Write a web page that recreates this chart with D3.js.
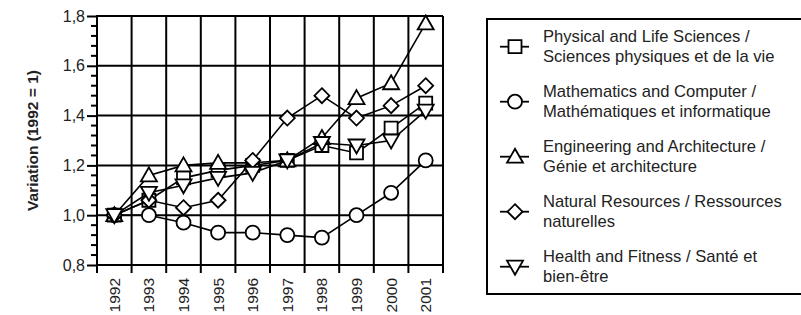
<!DOCTYPE html>
<html>
<head>
<meta charset="utf-8">
<script src="https://cdn.jsdelivr.net/npm/d3@7"></script>
<style>
  html, body { margin: 0; padding: 0; background: #fff; }
  svg { display: block; font-family: "Liberation Sans", Arial, sans-serif; }
</style>
</head>
<body>
<svg id="chart" width="801" height="315"></svg>
<script>
const years = ["1992","1993","1994","1995","1996","1997","1998","1999","2000","2001"];
const yTicks = [0.8, 1.0, 1.2, 1.4, 1.6, 1.8];

const physical    = [1.00, 1.06, 1.15, 1.18, 1.20, 1.22, 1.28, 1.25, 1.35, 1.45];
const mathematics = [1.00, 1.00, 0.97, 0.93, 0.93, 0.92, 0.91, 1.00, 1.09, 1.22];
const engineering = [1.00, 1.16, 1.20, 1.21, 1.21, 1.22, 1.31, 1.47, 1.53, 1.77];
const natural     = [1.00, 1.06, 1.03, 1.06, 1.22, 1.39, 1.48, 1.39, 1.44, 1.52];
const health      = [1.00, 1.09, 1.12, 1.15, 1.17, 1.22, 1.29, 1.28, 1.30, 1.42];

const seriesNames = [
  ["Physical and Life Sciences /", "Sciences physiques et de la vie"],
  ["Mathematics and Computer /", "Mathématiques et informatique"],
  ["Engineering and Architecture /", "Génie et architecture"],
  ["Natural Resources / Ressources", "naturelles"],
  ["Health and Fitness / Santé et", "bien-être"]
];
const seriesValues = [physical, mathematics, engineering, natural, health];
const seriesMarkers = ["square", "circle", "triangleUp", "diamond", "triangleDown"];

const svg = d3.select("#chart");
const m = {left: 97, right: 443, top: 16, bottom: 265};

const x = d3.scaleBand().domain(years).range([m.left, m.right]);
const y = d3.scaleLinear().domain([0.8, 1.8]).range([m.bottom, m.top]);

function markerPath(type) {
  switch (type) {
    case "square": return "M-6.5,-6.5H6.5V6.5H-6.5Z";
    case "circle": return d3.symbol().type(d3.symbolCircle).size(Math.PI * 7 * 7)();
    case "triangleUp": return "M0,-8L8,6H-8Z";
    case "triangleDown": return "M0,8L8,-6H-8Z";
    case "diamond": return "M0,-7.5L7.5,0L0,7.5L-7.5,0Z";
  }
}

// gridlines
const g = svg.append("g");
g.selectAll("line.h").data(yTicks.slice(1)).join("line")
  .attr("x1", m.left).attr("x2", m.right)
  .attr("y1", d => y(d)).attr("y2", d => y(d))
  .attr("stroke", "#000").attr("stroke-width", 2);
const bounds = years.map(d => x(d)).concat([m.right]);
g.selectAll("line.v").data(bounds).join("line")
  .attr("x1", d => d).attr("x2", d => d)
  .attr("y1", m.top).attr("y2", m.bottom + 8)
  .attr("stroke", "#000").attr("stroke-width", 2);

// y axis
const yAxis = d3.axisLeft(y).tickValues(yTicks).tickSize(10).tickPadding(2)
  .tickFormat(d => d3.format(".1f")(d).replace(".", ","));
const ya = svg.append("g").attr("transform", `translate(${m.left},0)`).call(yAxis);
ya.select(".domain").attr("stroke-width", 2).attr("d", `M0,${m.top - 1}V${m.bottom + 1}`);
ya.selectAll(".tick line").attr("stroke-width", 2);
ya.selectAll(".tick text").attr("font-size", 16).attr("fill", "#222")
  .attr("font-family", '"Liberation Sans", Arial, sans-serif');
const minor = d3.range(0.8, 1.8001, 0.04).filter(v => Math.abs(Math.round(v * 5) - v * 5) > 0.01);
svg.append("g").selectAll("line").data(minor).join("line")
  .attr("x1", m.left - 6).attr("x2", m.left)
  .attr("y1", d => y(d)).attr("y2", d => y(d))
  .attr("stroke", "#000").attr("stroke-width", 2);

// x axis line
svg.append("line").attr("x1", m.left - 1).attr("x2", m.right + 1)
  .attr("y1", m.bottom).attr("y2", m.bottom)
  .attr("stroke", "#000").attr("stroke-width", 2);
svg.append("g").selectAll("text").data(years).join("text")
  .attr("transform", d => `translate(${x(d) + x.bandwidth() / 2},${m.bottom + 13}) rotate(-90)`)
  .attr("text-anchor", "end").attr("dy", "0.35em")
  .attr("font-size", 15.5).attr("fill", "#222").text(d => d);

// y title
svg.append("text")
  .attr("transform", `translate(33,${(m.top + m.bottom) / 2}) rotate(-90)`)
  .attr("text-anchor", "middle").attr("dy", "0.35em")
  .attr("font-size", 15.5).attr("font-weight", "bold").attr("fill", "#222")
  .text("Variation (1992 = 1)");

// series
const line = d3.line().x((d, i) => x(years[i]) + x.bandwidth() / 2).y(d => y(d));
seriesValues.forEach((vals, k) => {
  const sg = svg.append("g");
  sg.append("path").attr("d", line(vals)).attr("fill", "none")
    .attr("stroke", "#000").attr("stroke-width", 1.6);
  sg.selectAll("path.mk").data(vals).join("path").attr("class", "mk")
    .attr("transform", (d, i) => `translate(${x(years[i]) + x.bandwidth() / 2},${y(d)})`)
    .attr("d", markerPath(seriesMarkers[k]))
    .attr("fill", "#fff").attr("stroke", "#000").attr("stroke-width", 1.8);
});

// legend
const lg = svg.append("g");
lg.append("rect").attr("x", 487).attr("y", 19).attr("width", 330).attr("height", 275)
  .attr("fill", "#fff").attr("stroke", "#000").attr("stroke-width", 2);
seriesNames.forEach((names, k) => {
  const base = 41.7 + k * 55;
  const my = base + 5;
  lg.append("line").attr("x1", 500).attr("x2", 529).attr("y1", my).attr("y2", my)
    .attr("stroke", "#000").attr("stroke-width", 1.8);
  lg.append("path").attr("transform", `translate(515,${my})`)
    .attr("d", markerPath(seriesMarkers[k]))
    .attr("fill", "#fff").attr("stroke", "#000").attr("stroke-width", 1.8);
  names.forEach((t, j) => {
    lg.append("text").attr("x", 543).attr("y", base + j * 20)
      .attr("font-size", 16.6).attr("fill", "#222").text(t);
  });
});
</script>
</body>
</html>
